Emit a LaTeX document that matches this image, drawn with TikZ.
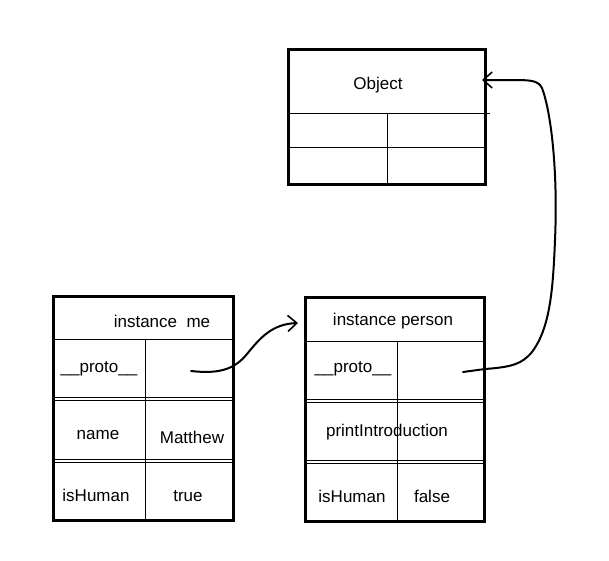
\documentclass[tikz,border=0pt]{standalone}
\usepackage{fontspec}
\setmainfont{Liberation Sans}
\usetikzlibrary{arrows.meta}
\tikzset{
  frame/.style={line width=3pt},
  rule/.style={line width=1pt},
  cell/.style={font=\fontsize{17}{20}\selectfont, inner sep=0pt, yshift=-2pt},
  link/.style={line width=2pt, line cap=round, -{Straight Barb[length=9pt,width=16pt,line width=1.6pt]}},
}
\begin{document}
\begin{tikzpicture}[x=1pt,y=-1pt]
    \useasboundingbox[fill=white] (0,0) rectangle (609,560);
    %% Object
    \draw[frame] (288,49) rectangle (485,184);
    \draw[rule] (288,113) -- (490,113);
    \draw[rule] (288,147) -- (487,147);
    \draw[rule] (387,113) -- (387,184);
    \node[cell] (obj) at (378,83) {Object};
    %% instance me
    \draw[frame] (53,296) rectangle (233,520);
    \draw[rule] (53,339) -- (233,339);
    \draw[rule] (53,397) -- (233,397);
    \draw[rule] (53,400) -- (233,400);
    \draw[rule] (53,459) -- (233,459);
    \draw[rule] (53,462) -- (233,462);
    \draw[rule] (145,339) -- (145,520);
    \node[cell] (mehead) at (162,319) {instance\ \ me};
    \node[cell] (meproto) at (99,367) {\_\_proto\_\_};
    \node[cell] (mename) at (98,433) {name};
    \node[cell] (meval) at (192,435) {Matthew};
    \node[cell] (mehuman) at (96,493) {isHuman};
    \node[cell] (metrue) at (188,494) {true};
    %% instance person
    \draw[frame] (305,297) rectangle (484,521);
    \draw[rule] (305,341) -- (484,341);
    \draw[rule] (305,399) -- (484,399);
    \draw[rule] (305,402) -- (484,402);
    \draw[rule] (305,460) -- (484,460);
    \draw[rule] (305,463) -- (484,463);
    \draw[rule] (397,341) -- (397,521);
    \node[cell] (phead) at (393,319) {instance person};
    \node[cell] (pproto) at (353,367) {\_\_proto\_\_};
    \node[cell] (pprint) at (387,430) {printIntroduction};
    \node[cell] (phuman) at (352,494) {isHuman};
    \node[cell] (pfalse) at (432,494) {false};
    %% pointers
    \coordinate (meptr) at (191,371);
    \coordinate (pin) at (298,323);
    \coordinate (pptr) at (463,372);
    \coordinate (objin) at (482,80);
    \draw[link] (meptr) .. controls (218,374) and (234,370) .. (247,354)
        .. controls (260,338) and (272,324) .. (pin);
    \draw[link] (pptr) -- (485,369) .. controls (512,367) and (522,364) .. (532,352)
        .. controls (550,328) and (553,290) .. (555,240)
        .. controls (558,170) and (551,112) .. (542,88)
        .. controls (538,80) and (530,80) .. (510,80) -- (objin);
\end{tikzpicture}
\end{document}
